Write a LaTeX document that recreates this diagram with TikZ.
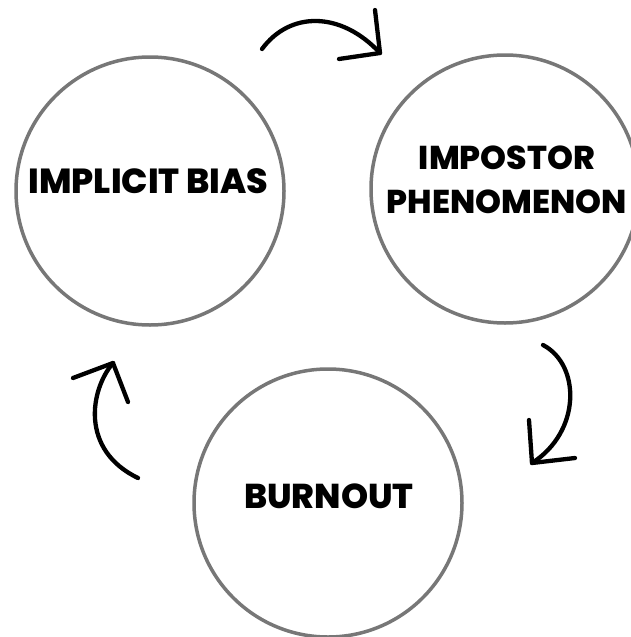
\documentclass[tikz,border=0pt]{standalone}
\usepackage{fontspec}
\setmainfont{Poppins}
\newfontfamily\heavyfont{Poppins ExtraBold}
\begin{document}
\begin{tikzpicture}[x=1pt,y=-1pt,
  ring/.style={circle,draw=ringgray,line width=3.5pt,minimum size=268pt,inner sep=0pt},
  label/.style={align=center,inner sep=0pt,text=black},
  flow/.style={line width=4.3pt,line cap=round,line join=round,black}]
\definecolor{ringgray}{HTML}{777777}
\useasboundingbox (0,0) rectangle (631,637);

% the three stages of the cycle
\node[ring] (bias) at (150,191) {};
\node[ring] (impostor) at (505,189) {};
\node[ring] (burnout) at (328,503) {};

\node[label,font=\fontsize{34.8}{40}\selectfont\heavyfont] (biastext) at (148.5,181.5) {IMPLICIT BIAS};
\node[label,font=\fontsize{33}{44}\selectfont\heavyfont] (impostortext) at (507,180) {IMPOSTOR\\PHENOMENON};
\node[label,font=\fontsize{34.5}{36}\selectfont\heavyfont] (burnouttext) at (329,496.5) {BURNOUT};

% curved arrows between the stages
\coordinate (a1s) at (262,49);
\coordinate (a1t) at (380,53);
\coordinate (a1l) at (375,10);
\coordinate (a1r) at (339,59);
\draw[flow] (a1s) .. controls (290,11) and (341,11) .. (a1t);
\draw[flow] (a1l) -- (a1t) -- (a1r);

\coordinate (a2s) at (543,345);
\coordinate (a2t) at (532,463);
\coordinate (a2l) at (529,420);
\coordinate (a2r) at (575,458);
\draw[flow] (a2s) .. controls (581,365) and (581,432) .. (a2t);
\draw[flow] (a2l) -- (a2t) -- (a2r);

\coordinate (a3s) at (138,478);
\coordinate (a3t) at (113,363);
\coordinate (a3l) at (73,378);
\coordinate (a3r) at (128,402);
\draw[flow] (a3s) .. controls (80,450) and (90,390) .. (a3t);
\draw[flow] (a3l) -- (a3t) -- (a3r);
\end{tikzpicture}
\end{document}
